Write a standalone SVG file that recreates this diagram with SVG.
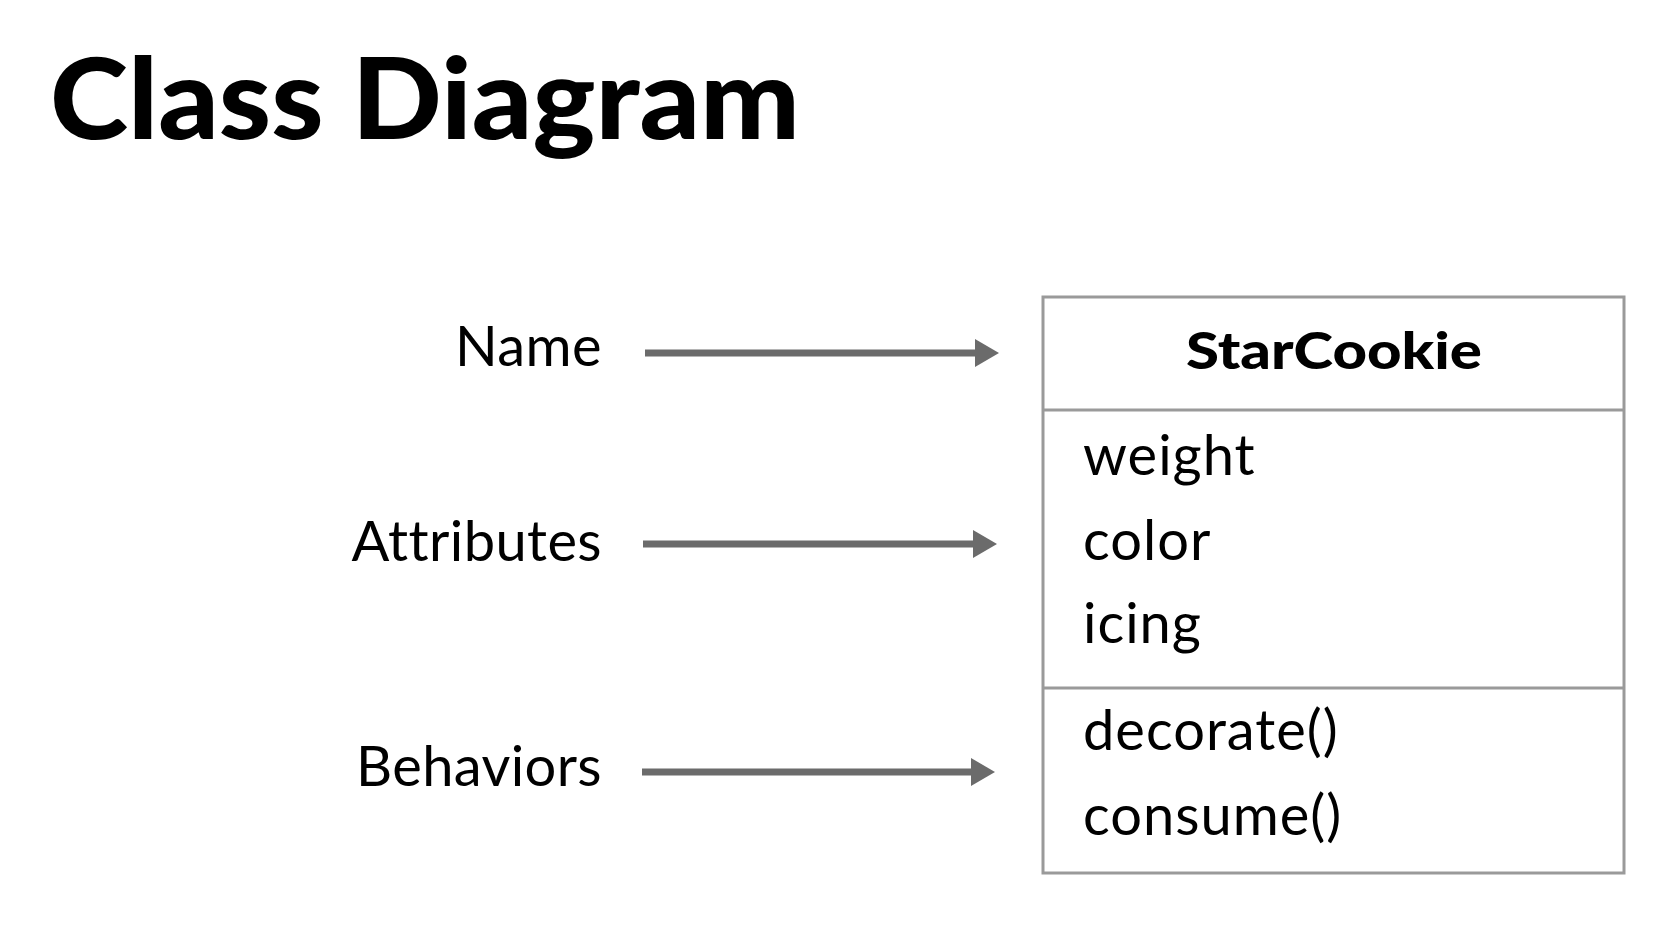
<svg xmlns="http://www.w3.org/2000/svg" width="1676" height="926" viewBox="0 0 1676 926">
<style>
.title{font-family:Lato,"Liberation Sans",sans-serif;font-weight:900;font-size:112px;fill:#000}
.lbl{font-family:Lato,"Liberation Sans",sans-serif;font-size:56px;letter-spacing:0.4px;fill:#000;text-anchor:end}
.item{font-family:Lato,"Liberation Sans",sans-serif;font-size:56px;letter-spacing:1px;fill:#000}
.cname{font-family:Lato,"Liberation Sans",sans-serif;font-weight:900;font-size:52px;fill:#000;text-anchor:middle}
.box{fill:#fff;stroke:#9a9a9a;stroke-width:3}
.conn{stroke:#6b6b6b;stroke-width:7;fill:none}
</style>
<defs>
<marker id="ah" viewBox="0 0 24 28" refX="0" refY="14" markerWidth="24" markerHeight="28" markerUnits="userSpaceOnUse" orient="auto">
<path d="M0,0 L24,14 L0,28 Z" fill="#6b6b6b"/>
</marker>
</defs>
<rect width="1676" height="926" fill="#fff"/>
<text class="title" x="50" y="139" textLength="750" lengthAdjust="spacingAndGlyphs">Class Diagram</text>
<g id="label-name"><text class="lbl" x="602" y="366">Name</text></g>
<g id="label-attributes"><text class="lbl" x="602" y="561">Attributes</text></g>
<g id="label-behaviors"><text class="lbl" x="602" y="786">Behaviors</text></g>
<g id="class-starcookie">
<rect class="box" x="1043" y="297" width="581" height="576"/>
<line class="box" x1="1043" y1="410" x2="1624" y2="410"/>
<line class="box" x1="1043" y1="688" x2="1624" y2="688"/>
<text class="cname" x="1334" y="369" textLength="296" lengthAdjust="spacingAndGlyphs">StarCookie</text>
<text class="item" x="1083" y="475">weight</text>
<text class="item" x="1083" y="560">color</text>
<text class="item" x="1083" y="643">icing</text>
<text class="item" x="1083" y="750">decorate()</text>
<text class="item" x="1083" y="835">consume()</text>
</g>
<g id="connectors">
<line class="conn" x1="645" y1="353" x2="975" y2="353" marker-end="url(#ah)"/>
<line class="conn" x1="643" y1="544" x2="973" y2="544" marker-end="url(#ah)"/>
<line class="conn" x1="642" y1="772" x2="971" y2="772" marker-end="url(#ah)"/>
</g>
</svg>
